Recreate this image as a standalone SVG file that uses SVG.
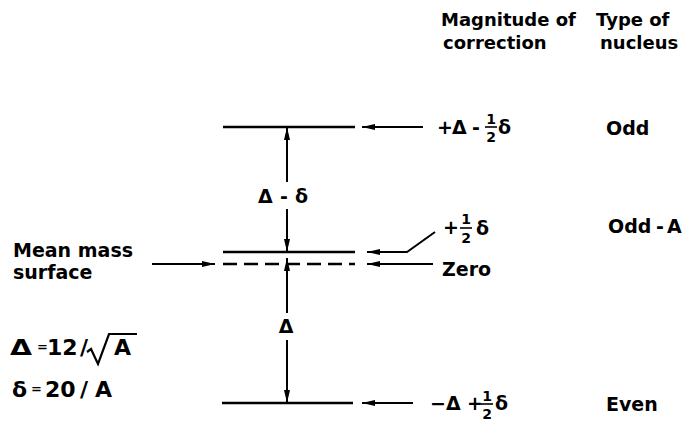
<svg xmlns="http://www.w3.org/2000/svg" width="687" height="422" viewBox="0 0 687 422">
<style>
text{font-family:"DejaVu Sans","Liberation Sans",sans-serif;font-weight:bold;fill:#000}
.t{font-size:19px}
.h{font-size:18px}
.f{font-size:22px}
.e{font-size:13px}
.s{font-size:14px}
.lvl{stroke:#000;stroke-width:2.6;fill:none}
.bar{stroke:#000;stroke-width:1.6}
.arr{stroke:#000;stroke-width:2;fill:none;marker-end:url(#ah)}
</style>
<defs>
<marker id="ah" markerUnits="userSpaceOnUse" markerWidth="14" markerHeight="8" refX="13" refY="4" orient="auto">
<path d="M0,1 L13,4 L0,7 Z" fill="#000"/>
</marker>
</defs>
<rect width="687" height="422" fill="#fff"/>

<g id="headers">
<text class="h" x="441" y="26">Magnitude of</text>
<text class="h" x="443" y="49">correction</text>
<text class="h" x="596" y="26">Type of</text>
<text class="h" x="600" y="49">nucleus</text>
</g>

<g id="level-odd">
<line class="lvl" x1="223" y1="127" x2="355" y2="127"/>
<text class="t" x="437" y="134">+</text>
<text class="t" x="452" y="134">Δ</text>
<text class="t" x="472" y="134">-</text>
<text class="s" x="491" y="124" text-anchor="middle">1</text>
<line class="bar" x1="485" y1="127" x2="497" y2="127"/>
<text class="s" x="491" y="142" text-anchor="middle">2</text>
<text class="t" x="498" y="134">δ</text>
<text class="t" x="606" y="135">Odd</text>
</g>

<g id="level-odda">
<line class="lvl" x1="223" y1="252" x2="355" y2="252"/>
<text class="t" x="443" y="234">+</text>
<text class="s" x="466" y="224" text-anchor="middle">1</text>
<line class="bar" x1="460" y1="228" x2="472" y2="228"/>
<text class="s" x="466" y="243" text-anchor="middle">2</text>
<text class="t" x="476" y="235">δ</text>
<text class="t" x="608" y="233">Odd<tspan x="656">-</tspan><tspan x="667">A</tspan></text>
</g>

<g id="level-zero">
<line class="lvl" x1="223" y1="264" x2="355" y2="264" stroke-dasharray="14 7"/>
<text class="t" x="442" y="276">Zero</text>
</g>

<g id="level-even">
<line class="lvl" x1="222" y1="403" x2="353" y2="403"/>
<text class="t" x="430" y="410">−</text>
<text class="t" x="446" y="410">Δ</text>
<text class="t" x="467" y="410">+</text>
<text class="s" x="487" y="401" text-anchor="middle">1</text>
<line class="bar" x1="481" y1="404" x2="493" y2="404"/>
<text class="s" x="487" y="419" text-anchor="middle">2</text>
<text class="t" x="495" y="410">δ</text>
<text class="t" x="606" y="411">Even</text>
</g>

<g id="mean-mass">
<text class="t" x="13" y="257">Mean mass</text>
<text class="t" x="13" y="279">surface</text>
</g>

<g id="formulas">
<text class="f" x="10" y="355" textLength="22" lengthAdjust="spacingAndGlyphs">Δ</text>
<text class="e" x="37" y="351">=</text>
<text class="f" x="47" y="355">12</text>
<text class="f" x="80" y="355">/</text>
<polyline points="87,352 91,349 98,364 109,334 137,334" fill="none" stroke="#000" stroke-width="2.2"/>
<text class="f" x="114" y="355">A</text>
<text class="f" x="12" y="397">δ</text>
<text class="e" x="31" y="393">=</text>
<text class="f" x="45" y="397">20</text>
<text class="f" x="80" y="397">/</text>
<text class="f" x="95" y="397">A</text>
</g>

<g id="labels">
<text class="t" x="258" y="203" textLength="50" lengthAdjust="spacing">Δ-δ</text>
<text class="t" x="286" y="333" text-anchor="middle">Δ</text>
</g>

<g id="connectors">
<line class="arr" x1="287" y1="182" x2="287" y2="127"/>
<line class="arr" x1="287" y1="209" x2="287" y2="252"/>
<line class="arr" x1="287" y1="313" x2="287" y2="258"/>
<line class="arr" x1="287" y1="340" x2="287" y2="403"/>
<line class="arr" x1="423" y1="127" x2="362" y2="127"/>
<polyline class="arr" points="435,232 407,252 367,252"/>
<line class="arr" x1="433" y1="264" x2="367" y2="264"/>
<line class="arr" x1="413" y1="403" x2="362" y2="403"/>
<line class="arr" x1="152" y1="264" x2="215" y2="264"/>
</g>
</svg>
